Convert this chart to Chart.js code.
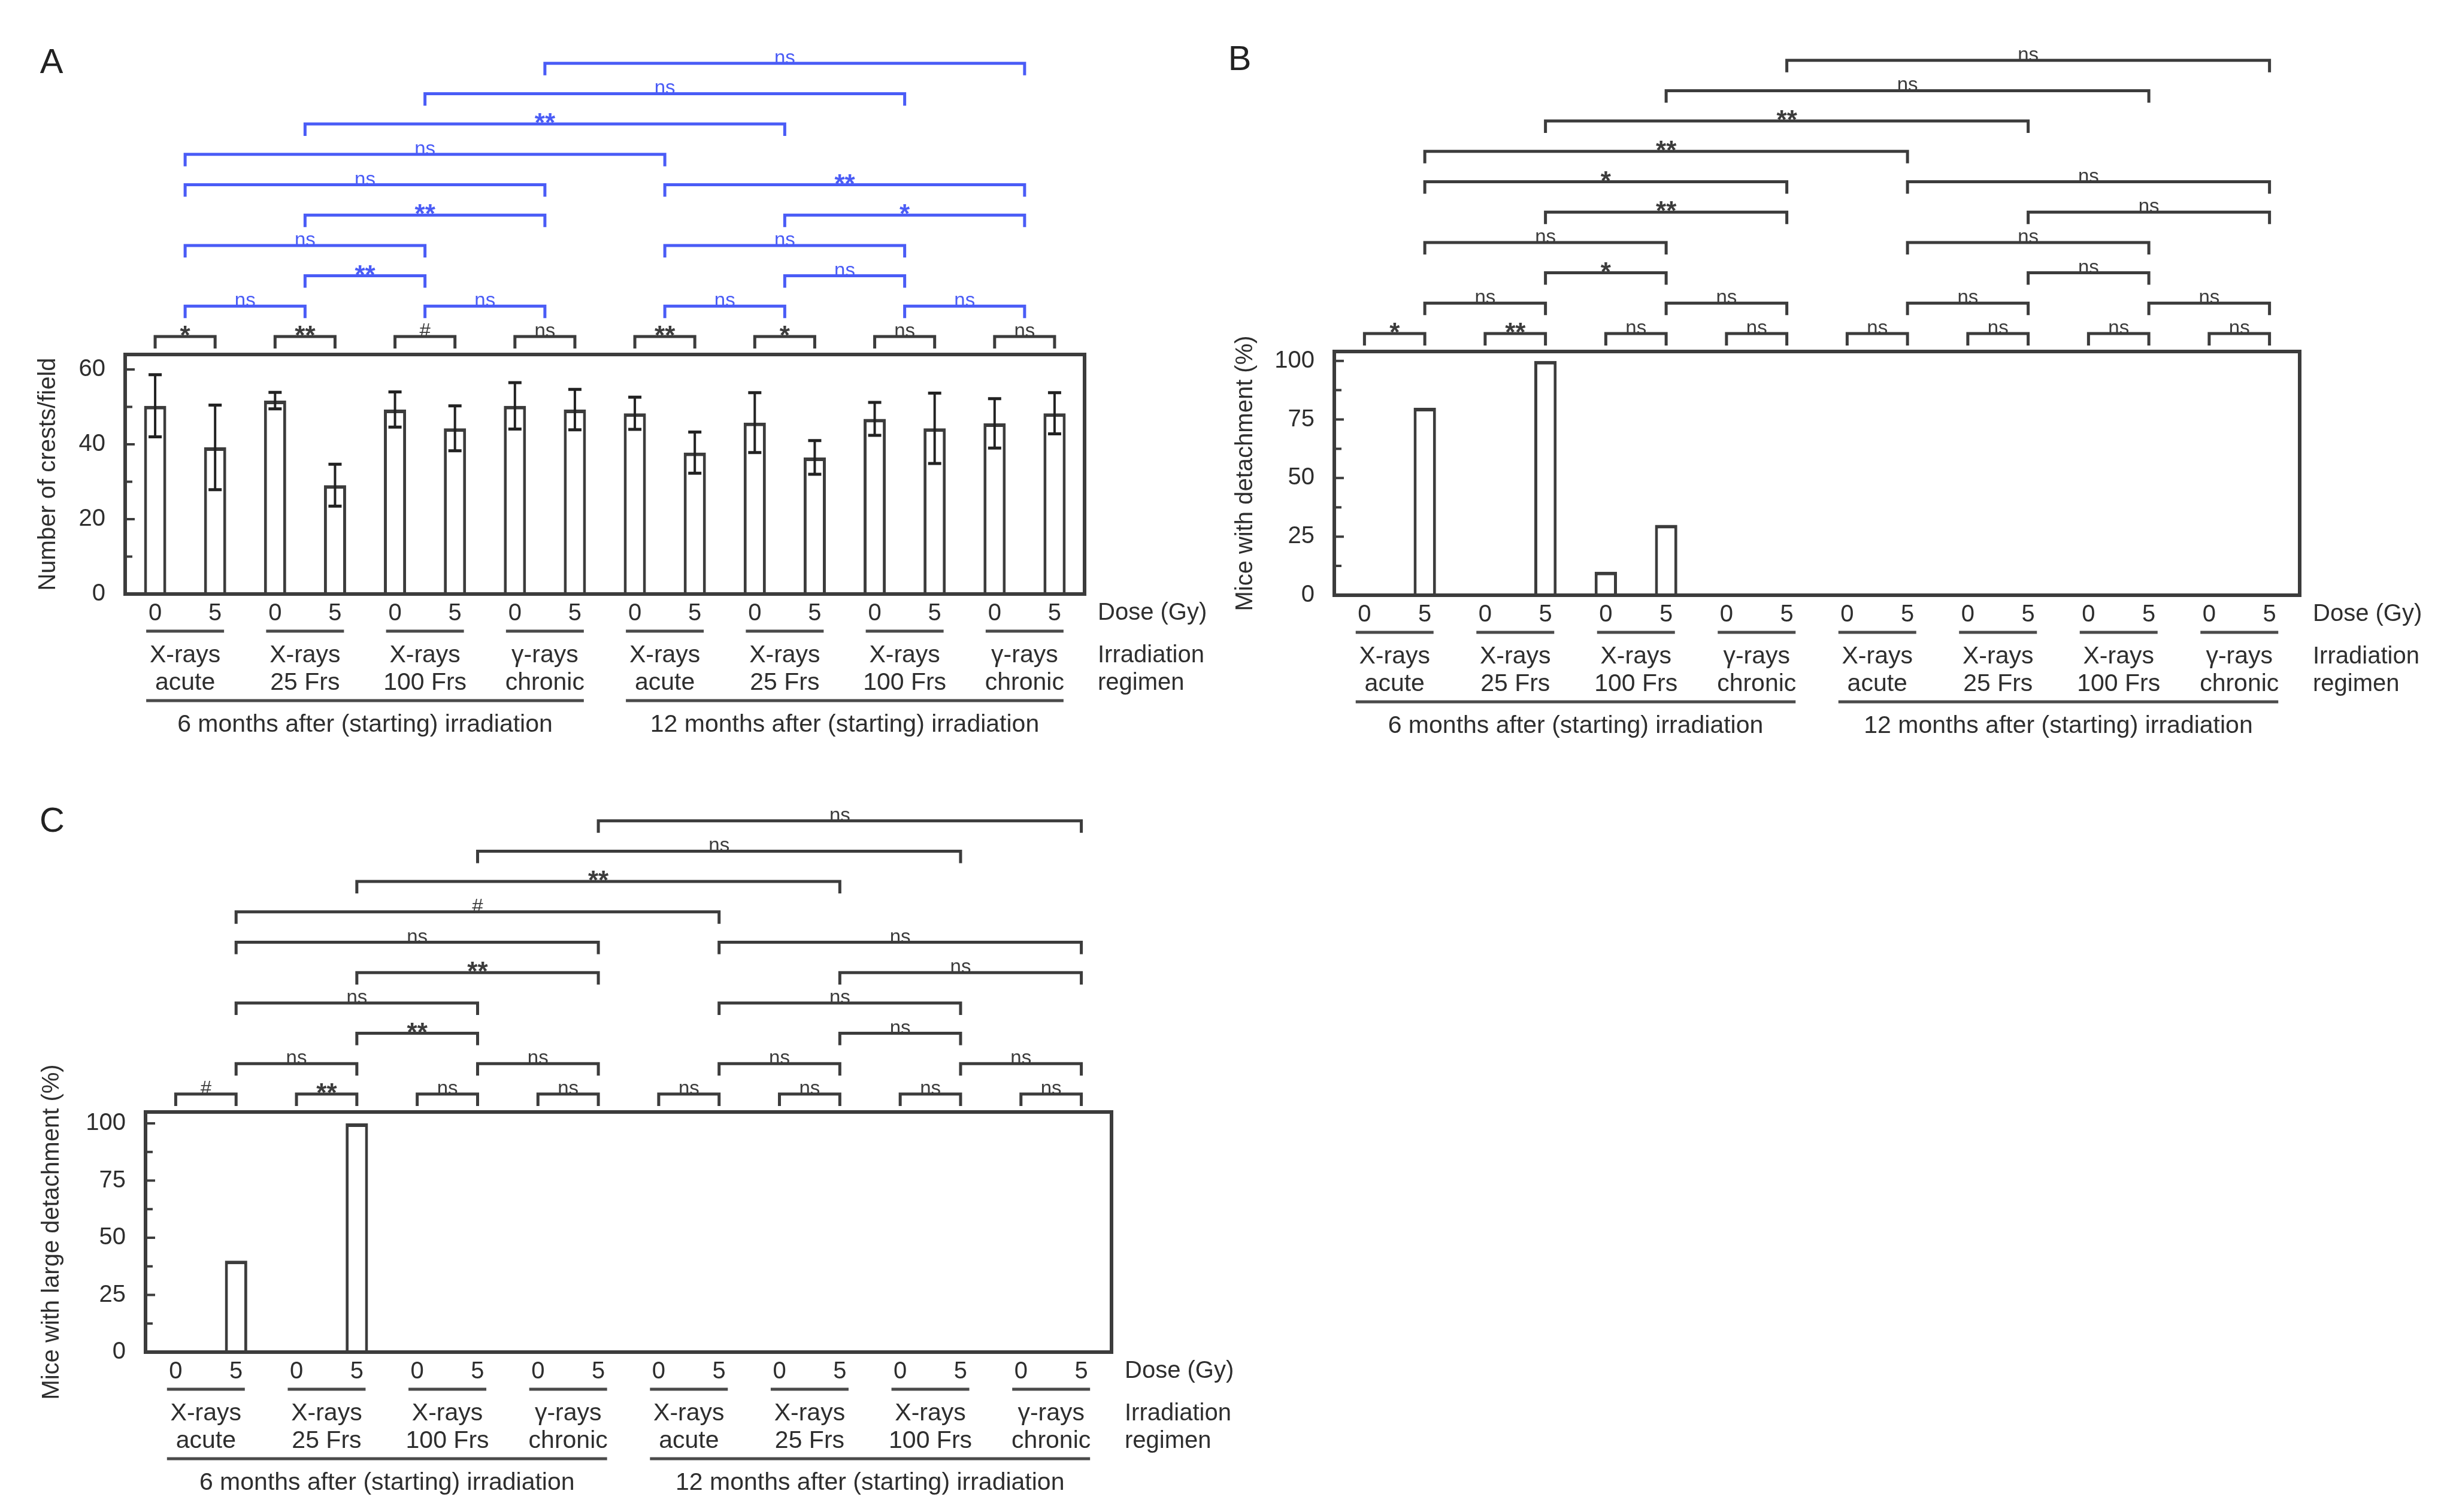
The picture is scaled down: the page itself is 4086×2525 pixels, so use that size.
<!DOCTYPE html>
<html>
<head>
<meta charset="utf-8">
<script src="https://cdn.jsdelivr.net/npm/chart.js@4.4.1/dist/chart.umd.min.js"></script>
<style>
  html, body { margin: 0; padding: 0; background: #fff; }
  body { width: 4086px; height: 2525px; position: relative; overflow: hidden; }
  canvas { position: absolute; }
</style>
</head>
<body>
<canvas id="chartA" width="2100" height="1300" style="left:0;top:0;width:2100px;height:1300px"></canvas>
<canvas id="chartB" width="2086" height="1300" style="left:2000px;top:0;width:2086px;height:1300px"></canvas>
<canvas id="chartC" width="2100" height="1235" style="left:0;top:1290px;width:2100px;height:1235px"></canvas>
<script>
// categories
const doses = ['0', '5', '0', '5', '0', '5', '0', '5', '0', '5', '0', '5', '0', '5', '0', '5'];
const regimenTop = ['X-rays', 'X-rays', 'X-rays', 'γ-rays', 'X-rays', 'X-rays', 'X-rays', 'γ-rays'];
const regimenBottom = ['acute', '25 Frs', '100 Frs', 'chronic', 'acute', '25 Frs', '100 Frs', 'chronic'];
const periods = ['6 months after (starting) irradiation', '12 months after (starting) irradiation'];

// values
const crestMean = [50.3, 39.2, 51.7, 29.1, 49.3, 44.3, 50.3, 49.3, 48.3, 37.8, 45.8, 36.5, 46.8, 44.3, 45.6, 48.3];
const crestSD = [8.3, 11.3, 2.2, 5.6, 4.7, 6.0, 6.2, 5.4, 4.3, 5.5, 8.0, 4.5, 4.4, 9.4, 6.6, 5.5];
const detachment = [0, 80, 0, 100, 10, 30, 0, 0, 0, 0, 0, 0, 0, 0, 0, 0];
const largeDetachment = [0, 40, 0, 100, 0, 0, 0, 0, 0, 0, 0, 0, 0, 0, 0, 0];

// ticks
const crestTicks = [0, 20, 40, 60];
const crestMinor = [10, 30, 50];
const pctTicks = [0, 25, 50, 75, 100];
const pctMinor = [12.5, 37.5, 62.5, 87.5];

// significance: 0 vs 5 Gy inside each regimen
const doseSigA = ['*', '**', '#', 'ns', '**', '*', 'ns', 'ns'];
const doseSigB = ['*', '**', 'ns', 'ns', 'ns', 'ns', 'ns', 'ns'];
const doseSigC = ['#', '**', 'ns', 'ns', 'ns', 'ns', 'ns', 'ns'];
// significance between regimens (group index pairs, bracket row from the bottom)
const groupPairs = [[0, 1], [2, 3], [4, 5], [6, 7], [1, 2], [5, 6], [0, 2], [4, 6], [1, 3], [5, 7], [0, 3], [4, 7], [0, 4], [1, 5], [2, 6], [3, 7]];
const pairRows = [2, 2, 2, 2, 3, 3, 4, 4, 5, 5, 6, 6, 7, 8, 9, 10];
const groupSigA = ['ns', 'ns', 'ns', 'ns', '**', 'ns', 'ns', 'ns', '**', '*', 'ns', '**', 'ns', '**', 'ns', 'ns'];
const groupSigB = ['ns', 'ns', 'ns', 'ns', '*', 'ns', 'ns', 'ns', '**', 'ns', '*', 'ns', '**', '**', 'ns', 'ns'];
const groupSigC = ['ns', 'ns', 'ns', 'ns', '**', 'ns', 'ns', 'ns', '**', 'ns', 'ns', 'ns', '#', '**', 'ns', 'ns'];

const FONT = '"Liberation Sans", Arial, sans-serif';
const INK = '#3c3c3c';
const TEXT = '#2e2e2e';
const BLUE = '#4a5cf6';

Chart.defaults.font.family = FONT;

function sigText(ctx, label, xc, yLine, color) {
  ctx.fillStyle = color;
  ctx.textAlign = 'center';
  ctx.textBaseline = 'alphabetic';
  if (label.startsWith('*')) {
    ctx.font = 'bold 44px ' + FONT;
    ctx.fillText(label, xc, yLine + 13);
  } else {
    ctx.font = '33px ' + FONT;
    ctx.fillText(label, xc, yLine + 1);
  }
}

function bracket(ctx, x1, x2, yLine, label, color) {
  ctx.strokeStyle = color;
  ctx.lineWidth = 5;
  ctx.beginPath();
  ctx.moveTo(x1, yLine + 20);
  ctx.lineTo(x1, yLine);
  ctx.lineTo(x2, yLine);
  ctx.lineTo(x2, yLine + 20);
  ctx.stroke();
  sigText(ctx, label, (x1 + x2) / 2, yLine, color);
}

function decor(cfg) {
  return {
    id: 'decor' + cfg.letter,
    afterDatasetsDraw(chart) {
      const { ctx, chartArea: ca, scales: { x, y } } = chart;
      ctx.save();
      // error bars
      if (cfg.sd) {
        ctx.strokeStyle = '#222';
        cfg.values.forEach((m, i) => {
          const xc = x.getPixelForValue(i);
          const yt = y.getPixelForValue(m + cfg.sd[i]);
          const yb = y.getPixelForValue(m - cfg.sd[i]);
          ctx.lineWidth = 4;
          ctx.beginPath();
          ctx.moveTo(xc, yt); ctx.lineTo(xc, yb);
          ctx.stroke();
          ctx.lineWidth = 5;
          ctx.beginPath();
          ctx.moveTo(xc - 11, yt); ctx.lineTo(xc + 11, yt);
          ctx.moveTo(xc - 11, yb); ctx.lineTo(xc + 11, yb);
          ctx.stroke();
        });
      }
      // frame
      ctx.strokeStyle = INK;
      ctx.lineWidth = 6;
      ctx.strokeRect(ca.left, ca.top, ca.right - ca.left, ca.bottom - ca.top);
      // inward ticks
      ctx.lineWidth = 4;
      ctx.beginPath();
      cfg.ticks.forEach(v => {
        const yy = y.getPixelForValue(v);
        ctx.moveTo(ca.left, yy); ctx.lineTo(ca.left + 16, yy);
      });
      cfg.minor.forEach(v => {
        const yy = y.getPixelForValue(v);
        ctx.moveTo(ca.left, yy); ctx.lineTo(ca.left + 12, yy);
      });
      ctx.stroke();
      ctx.restore();
    },
    afterDraw(chart) {
      const { ctx, chartArea: ca, scales: { x } } = chart;
      ctx.save();
      const px = i => x.getPixelForValue(i);
      const mid = g => (px(2 * g) + px(2 * g + 1)) / 2;
      const anchor = g => cfg.midAnchor ? mid(g) : px(2 * g + 1);
      const rowY = k => ca.top - 30 - (k - 1) * 50.7;

      // brackets
      cfg.doseSig.forEach((lab, g) => bracket(ctx, px(2 * g), px(2 * g + 1), rowY(1), lab, INK));
      groupPairs.forEach((pr, i) => {
        bracket(ctx, anchor(pr[0]), anchor(pr[1]), rowY(pairRows[i]), cfg.groupSig[i], cfg.upperColor);
      });

      // regimen labels and underlines
      ctx.strokeStyle = '#4a4a4a';
      ctx.lineWidth = 5;
      ctx.fillStyle = TEXT;
      ctx.textAlign = 'center';
      ctx.textBaseline = 'alphabetic';
      ctx.font = '41px ' + FONT;
      regimenTop.forEach((t, g) => {
        const m = mid(g);
        ctx.beginPath();
        ctx.moveTo(m - 65, ca.bottom + 62); ctx.lineTo(m + 65, ca.bottom + 62);
        ctx.stroke();
        ctx.fillText(t, m, ca.bottom + 114);
        ctx.fillText(regimenBottom[g], m, ca.bottom + 160);
      });
      periods.forEach((t, p) => {
        const x1 = mid(4 * p) - 65;
        const x2 = mid(4 * p + 3) + 65;
        ctx.beginPath();
        ctx.moveTo(x1, ca.bottom + 178); ctx.lineTo(x2, ca.bottom + 178);
        ctx.stroke();
        ctx.fillText(t, (x1 + x2) / 2, ca.bottom + 230);
      });

      // side labels
      ctx.textAlign = 'left';
      ctx.font = '40px ' + FONT;
      ctx.textBaseline = 'middle';
      ctx.fillText('Dose (Gy)', ca.right + 22, ca.bottom + 32);
      ctx.textBaseline = 'alphabetic';
      ctx.fillText('Irradiation', ca.right + 22, ca.bottom + 114);
      ctx.fillText('regimen', ca.right + 22, ca.bottom + 160);

      // panel letter
      ctx.font = '58px ' + FONT;
      ctx.textAlign = 'center';
      ctx.textBaseline = 'middle';
      ctx.fillStyle = '#222';
      ctx.fillText(cfg.letter, cfg.letterPos[0], cfg.letterPos[1]);
      ctx.restore();
    }
  };
}

function makeChart(id, cfg) {
  return new Chart(document.getElementById(id), {
    type: 'bar',
    data: {
      labels: doses,
      datasets: [{
        data: cfg.values,
        backgroundColor: '#fff',
        borderColor: INK,
        borderWidth: { top: 6, left: 5, right: 5, bottom: 0 },
        borderSkipped: false,
        barPercentage: 0.37,
        categoryPercentage: 1
      }]
    },
    options: {
      responsive: false,
      animation: false,
      devicePixelRatio: 1,
      layout: { padding: cfg.padding },
      plugins: { legend: { display: false }, tooltip: { enabled: false } },
      scales: {
        x: {
          grid: { display: false, drawTicks: false },
          border: { display: false },
          ticks: { font: { size: 40 }, color: TEXT, padding: 9, autoSkip: false, maxRotation: 0 },
          afterFit: s => { s.height = 60; }
        },
        y: {
          min: 0,
          max: cfg.max,
          grid: { display: false, drawTicks: false },
          border: { display: false },
          ticks: { font: { size: 40 }, color: TEXT, padding: 33 },
          afterBuildTicks: s => { s.ticks = cfg.ticks.map(v => ({ value: v })); },
          afterFit: s => { s.width = cfg.yWidth; },
          title: { display: true, text: cfg.yTitle, font: { size: 40 }, color: TEXT, padding: 0 }
        }
      }
    },
    plugins: [decor(cfg)]
  });
}

makeChart('chartA', {
  letter: 'A', letterPos: [86, 106],
  values: crestMean, sd: crestSD, max: 64,
  ticks: crestTicks, minor: crestMinor,
  yTitle: 'Number of crests/field',
  doseSig: doseSigA, groupSig: groupSigA, upperColor: BLUE, midAnchor: true,
  padding: { left: 57, right: 289, top: 592, bottom: 248 }, yWidth: 152
});

makeChart('chartB', {
  letter: 'B', letterPos: [70, 101],
  values: detachment, sd: null, max: 104,
  ticks: pctTicks, minor: pctMinor,
  yTitle: 'Mice with detachment (%)',
  doseSig: doseSigB, groupSig: groupSigB, upperColor: INK, midAnchor: false,
  padding: { left: 56, right: 246, top: 587, bottom: 246 }, yWidth: 172
});

makeChart('chartC', {
  letter: 'C', letterPos: [87, 83],
  values: largeDetachment, sd: null, max: 105,
  ticks: pctTicks, minor: pctMinor,
  yTitle: 'Mice with large detachment (%)',
  doseSig: doseSigC, groupSig: groupSigC, upperColor: INK, midAnchor: false,
  padding: { left: 63, right: 244, top: 567, bottom: 207 }, yWidth: 180
});
</script>
</body>
</html>
